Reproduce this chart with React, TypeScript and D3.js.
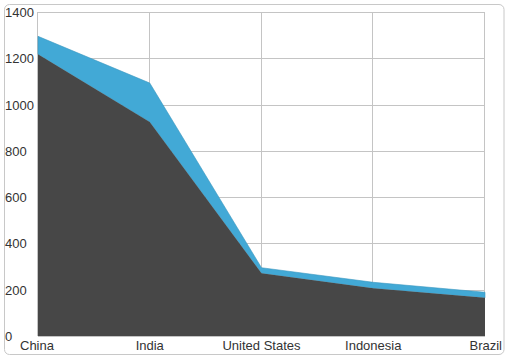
import React from "react";
import * as d3 from "d3";

const categories = ["China", "India", "United States", "Indonesia", "Brazil"];
const seriesBottom = [1217, 925, 271, 206, 165];
const seriesTop = [78, 168, 24, 26, 24];
const yTicks = [0, 200, 400, 600, 800, 1000, 1200, 1400];

const W = 508;
const H = 359;
const M = { left: 38, right: 485, top: 12, bottom: 336 };

export default function App() {
  const x = d3
    .scalePoint<string>()
    .domain(categories)
    .range([M.left, M.right]);
  const y = d3.scaleLinear().domain([0, 1400]).range([M.bottom, M.top]);

  const rows = categories.map((c, i) => ({ cat: c, a: seriesBottom[i], b: seriesTop[i] }));
  const stack = d3.stack<any>().keys(["a", "b"]);
  const layers = stack(rows);
  const area = d3
    .area<any>()
    .x((d) => x(d.data.cat) as number)
    .y0((d) => y(d[0]))
    .y1((d) => y(d[1]));
  const colors = ["#474747", "#42a9d6"];
  const font = "Liberation Sans, Arial, sans-serif";

  return (
    <svg
      width={W}
      height={H}
      style={{ position: "absolute", left: 0, top: 0 }}
      fontFamily={font}
    >
      <rect x={4.5} y={4.5} width={499.5} height={350} rx={5} fill="#fff" stroke="#c8c8c8" />
      {yTicks.map((t) => (
        <line key={"h" + t} x1={M.left} x2={M.right} y1={Math.round(y(t)) + 0.5} y2={Math.round(y(t)) + 0.5} stroke="#c4c4c4" />
      ))}
      {categories.map((c) => (
        <line key={"v" + c} x1={Math.round(x(c) as number) - 0.5} x2={Math.round(x(c) as number) - 0.5} y1={M.top} y2={M.bottom} stroke="#c4c4c4" />
      ))}
      {layers
        .slice()
        .reverse()
        .map((layer, i) => {
          const idx = layers.length - 1 - i;
          return <path key={idx} d={area(layer as any) as string} fill={colors[idx]} stroke={idx === 1 ? "#3a97c0" : "none"} strokeWidth={0.6} />;
        })}
      {yTicks.map((t) => (
        <text key={"yl" + t} x={5} y={y(t) + 5} fontSize={13} fill="#333">
          {t}
        </text>
      ))}
      {categories.map((c, i) => (
        <text
          key={"xl" + c}
          x={x(c) as number}
          y={350}
          fontSize={13}
          fill="#333"
          textAnchor={i === categories.length - 1 ? "end" : i === 0 ? "start" : "middle"}
          dx={i === 0 ? -18 : i === categories.length - 1 ? 17 : 0}
        >
          {c}
        </text>
      ))}
    </svg>
  );
}
